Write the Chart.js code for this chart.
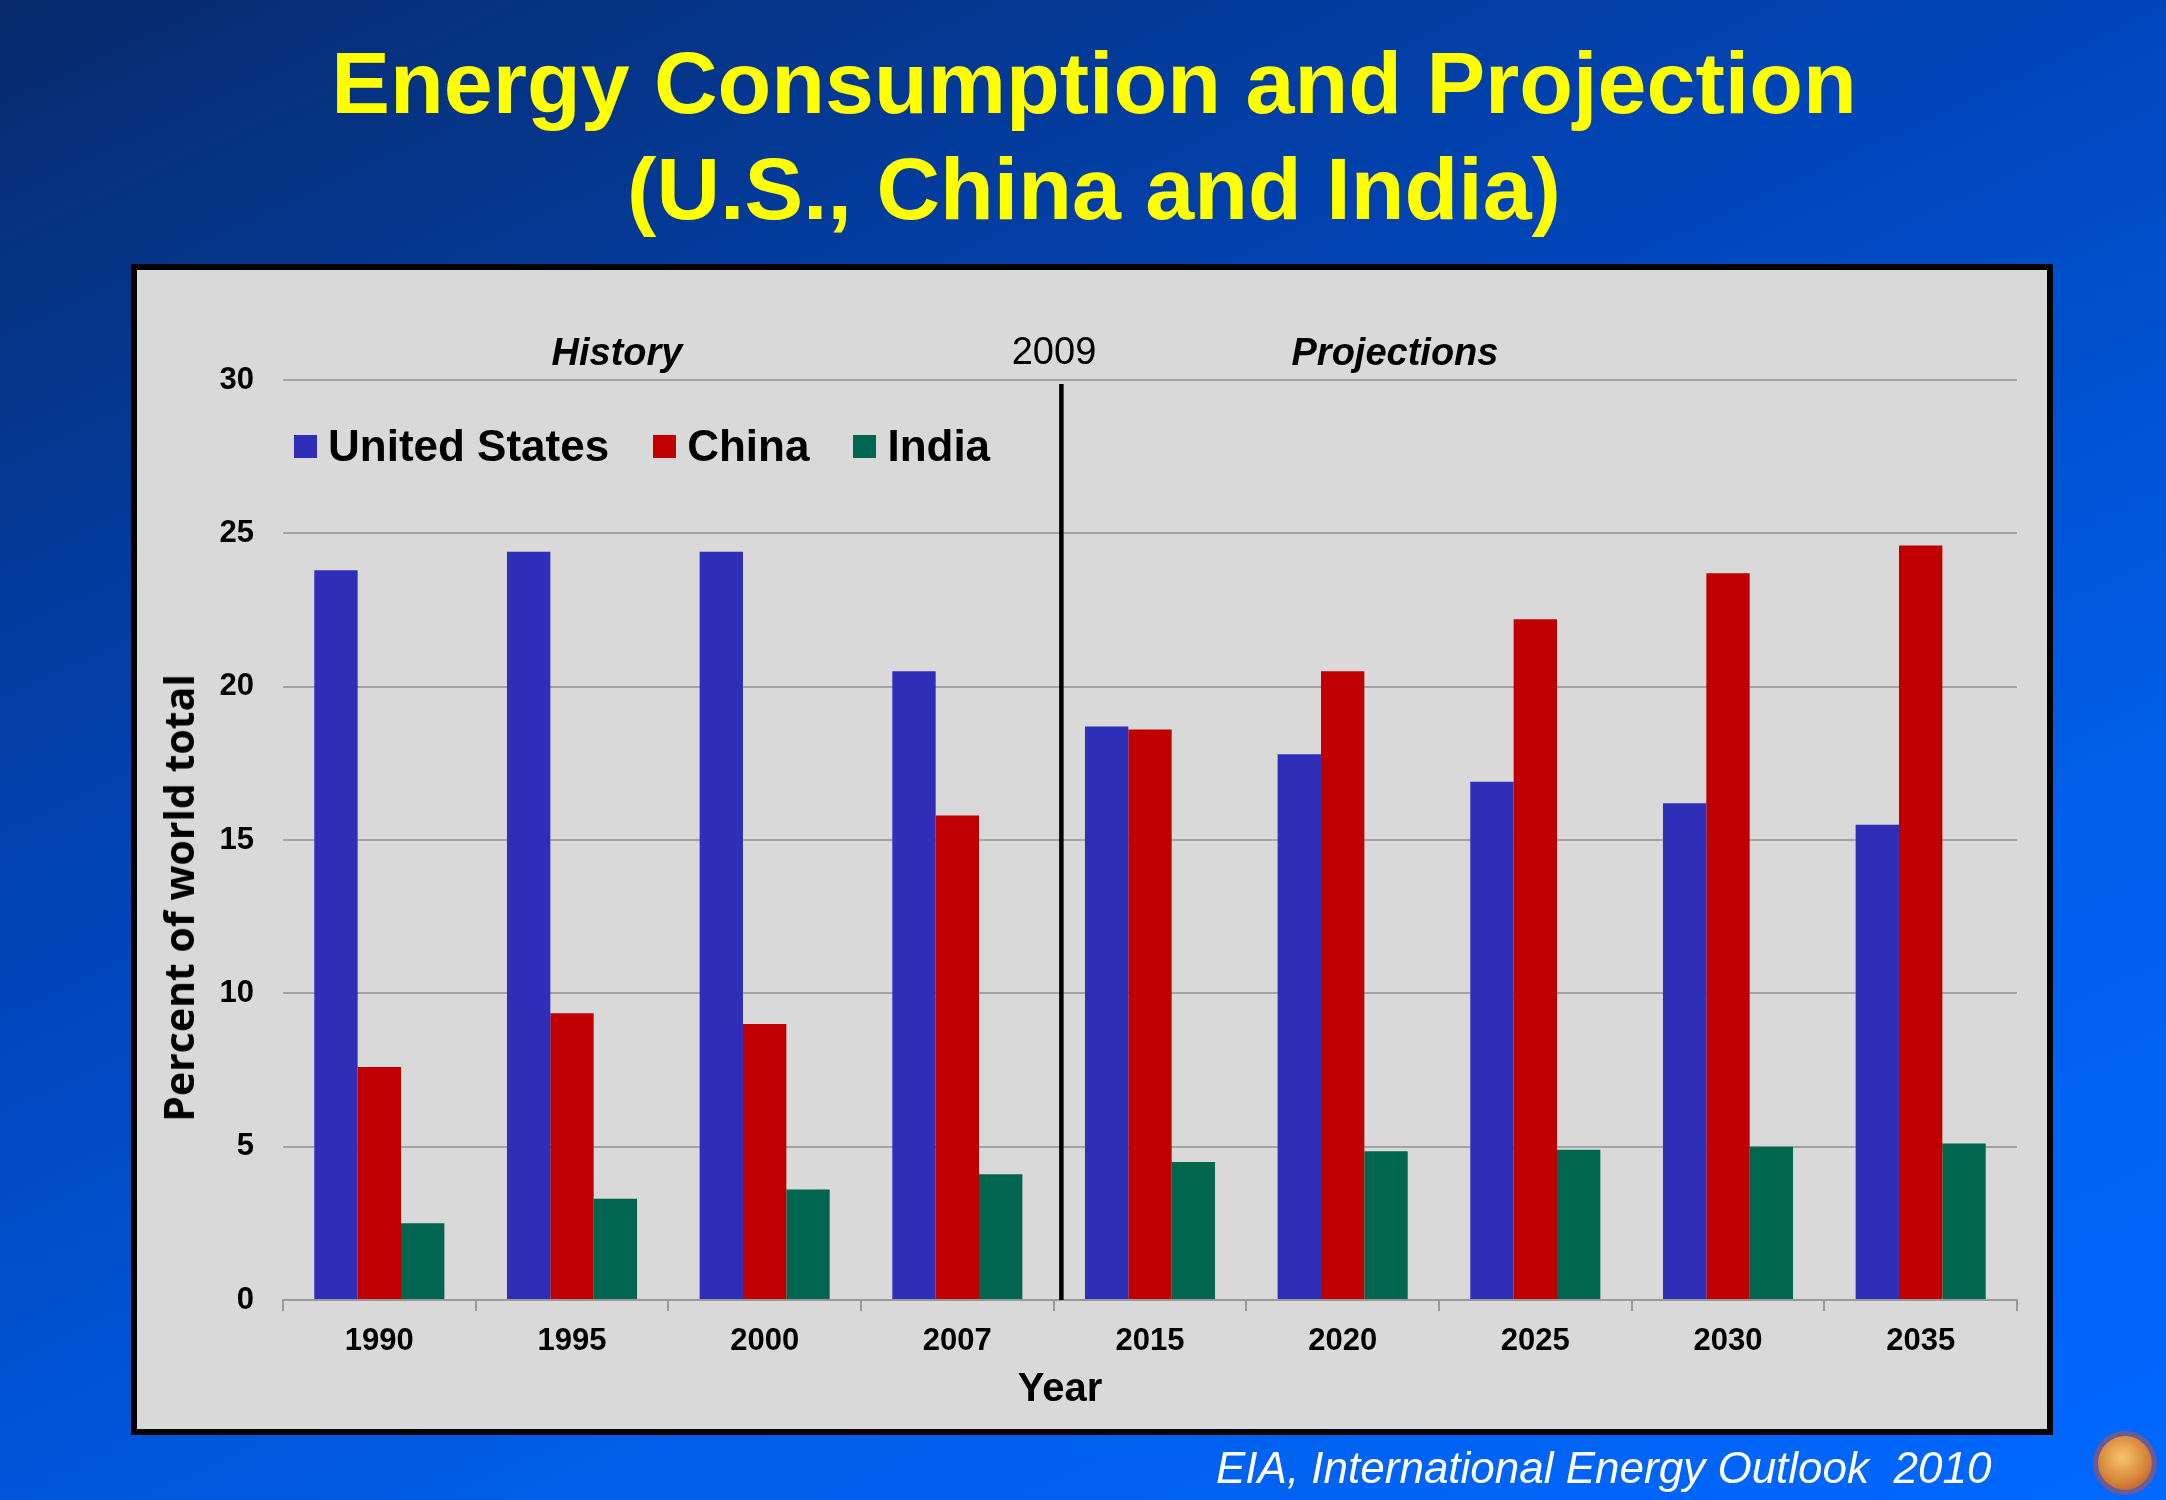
<!DOCTYPE html>
<html>
<head>
<meta charset="utf-8">
<title>Energy Consumption and Projection</title>
<script src="https://cdn.jsdelivr.net/npm/chart.js"></script>
<style>
    html, body { margin: 0; padding: 0; }
    body {
        width: 2166px; height: 1500px; position: relative; overflow: hidden;
        background: linear-gradient(155deg, #072b6c 0%, #0046bb 40%, #005ee8 70%, #0068ff 100%);
        font-family: 'Liberation Sans', Arial, sans-serif;
    }
    .title {
        position: absolute; left: 0; top: 30px; width: 2188px;
        text-align: center; color: #ffff00; font-weight: bold;
        font-size: 88px; line-height: 106px;
    }
    .panel {
        position: absolute; left: 131px; top: 264px;
        width: 1910px; height: 1159px;
        background: #d9d9d9; border: 6px solid #000;
    }
    #chart { position: absolute; left: 0; top: 0; }
    .note {
        position: absolute; transform: translate(-50%, -50%);
        color: #000; font-size: 38px; white-space: nowrap;
    }
    .note.em { font-style: italic; font-weight: bold; }
    .axis-title { font-weight: bold; }
    .ytitle {
        font-family: 'Open Sans', sans-serif; font-size: 41px;
        transform: translate(-50%, -50%) rotate(-90deg);
    }
    #legend {
        position: absolute; left: 294px; top: 446px; transform: translateY(-50%);
        display: flex; align-items: center;
        font-size: 44px; font-weight: bold; color: #000;
    }
    #legend .item { display: flex; align-items: center; margin-right: 44px; }
    #legend .box { width: 23px; height: 23px; margin-right: 11px; }
    .source {
        position: absolute; left: 1216px; top: 1468px; transform: translateY(-50%);
        color: #fff; font-style: italic; font-size: 44px; white-space: nowrap;
    }
    .sun {
        position: absolute; left: 2098px; top: 1436px; width: 54px; height: 54px;
        border-radius: 50%;
        background: radial-gradient(circle at 45% 40%, #f7c66a 0%, #d9853a 55%, #a8482c 100%);
        box-shadow: 0 0 0 5px rgba(200, 80, 60, 0.55);
    }
</style>
</head>
<body>
<div class="title">Energy Consumption and Projection<br>(U.S., China and India)</div>
<div class="panel"></div>
<canvas id="chart" width="2166" height="1500"></canvas>
<div class="note em" style="left:617px; top:352px;">History</div>
<div class="note" style="left:1054px; top:351px;">2009</div>
<div class="note em" style="left:1395px; top:352px;">Projections</div>
<div class="note axis-title" style="left:1060px; top:1387px; font-size:40px;">Year</div>
<div class="note axis-title ytitle" style="left:178px; top:898px;">Percent of world total</div>
<div id="legend"></div>
<div class="source">EIA, International Energy Outlook&nbsp; 2010</div>
<div class="sun"></div>

<script>
// values (percent of world energy consumption)
const years = ['1990', '1995', '2000', '2007', '2015', '2020', '2025', '2030', '2035'];
const usShare = [23.8, 24.4, 24.4, 20.5, 18.7, 17.8, 16.9, 16.2, 15.5];
const chinaShare = [7.6, 9.35, 9.0, 15.8, 18.6, 20.5, 22.2, 23.7, 24.6];
const indiaShare = [2.5, 3.3, 3.6, 4.1, 4.5, 4.85, 4.9, 5.0, 5.1];
const seriesNames = ['United States', 'China', 'India'];

const tickFont = { family: "'Liberation Sans', Arial, sans-serif", size: 31, weight: 'bold' };

// black divider between history and projections (just after 2007)
const dividerLine = {
    id: 'dividerLine',
    afterDatasetsDraw(chart) {
        const { ctx, scales: { x, y } } = chart;
        const px = x.getPixelForValue(3.54);
        ctx.save();
        ctx.strokeStyle = '#000';
        ctx.lineWidth = 4.5;
        ctx.beginPath();
        ctx.moveTo(px, y.getPixelForValue(29.87));
        ctx.lineTo(px, y.getPixelForValue(0));
        ctx.stroke();
        ctx.restore();
    }
};

const chart = new Chart(document.getElementById('chart'), {
    type: 'bar',
    data: {
        labels: years,
        datasets: [
            { label: seriesNames[0], data: usShare, backgroundColor: '#2e2eb8' },
            { label: seriesNames[1], data: chinaShare, backgroundColor: '#c00000' },
            { label: seriesNames[2], data: indiaShare, backgroundColor: '#00664f' }
        ]
    },
    options: {
        responsive: false,
        animation: false,
        layout: { padding: { left: 155, right: 149, top: 380, bottom: 90 } },
        datasets: { bar: { barPercentage: 1, categoryPercentage: 0.675 } },
        plugins: { legend: { display: false }, tooltip: { enabled: false } },
        scales: {
            x: {
                afterFit: (s) => { s.height = 110; },
                grid: { drawOnChartArea: false, color: '#999', lineWidth: 2, tickLength: 11 },
                border: { display: true, color: '#999', width: 2 },
                ticks: { color: '#000', font: tickFont, padding: 12, maxRotation: 0 }
            },
            y: {
                min: 0, max: 30,
                afterFit: (s) => { s.width = 128; },
                grid: { color: '#a3a3a3', lineWidth: 2, drawTicks: false },
                border: { display: false },
                ticks: { stepSize: 5, color: '#000', font: tickFont, padding: 29 }
            }
        }
    },
    plugins: [dividerLine]
});

// legend sits inside the plot, so build it from the chart's datasets
const legendEl = document.getElementById('legend');
chart.data.datasets.forEach(ds => {
    const item = document.createElement('div');
    item.className = 'item';
    item.innerHTML = `<span class="box" style="background:${ds.backgroundColor}"></span><span>${ds.label}</span>`;
    legendEl.appendChild(item);
});
</script>
</body>
</html>
